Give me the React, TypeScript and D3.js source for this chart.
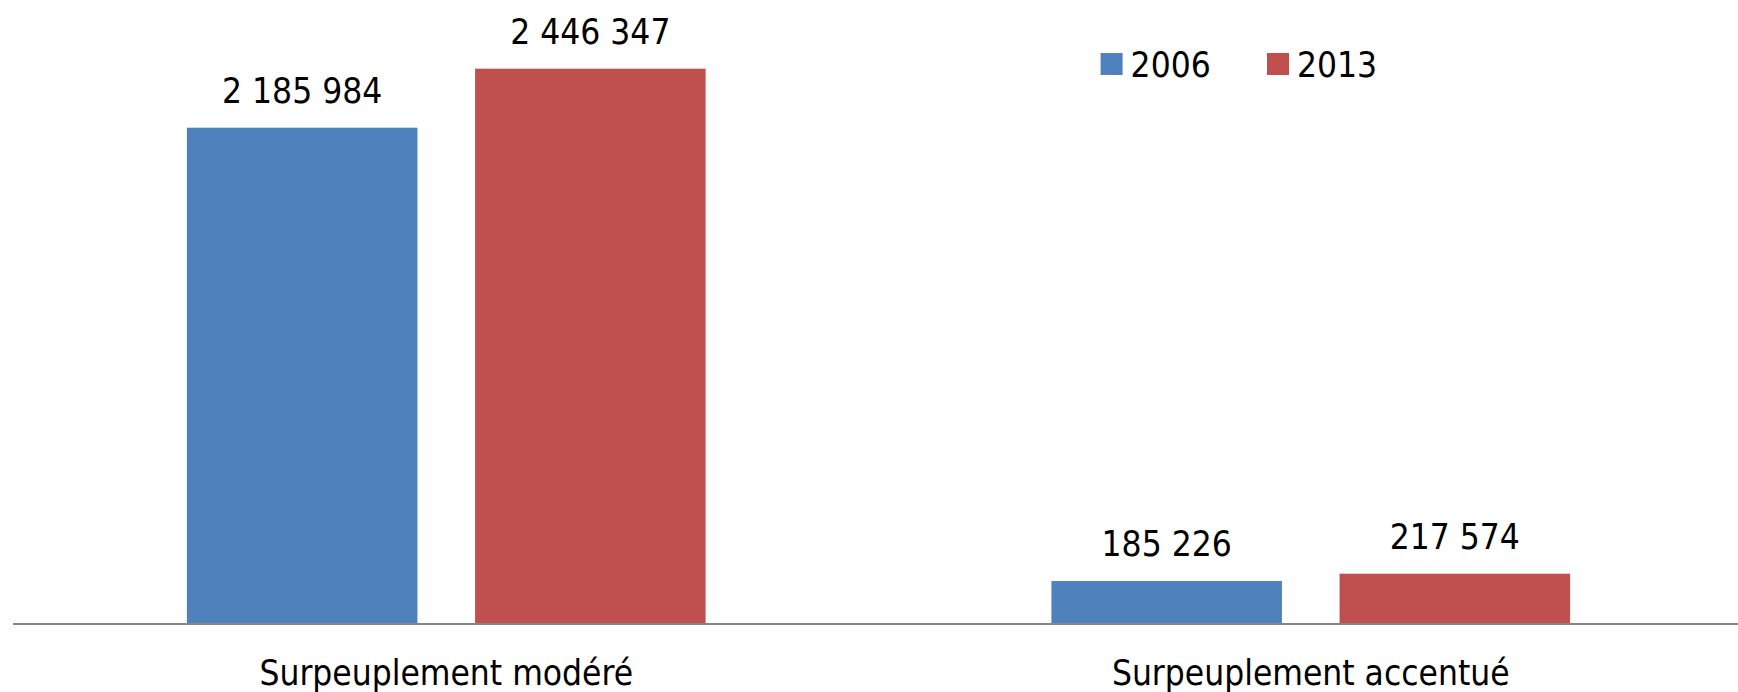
import React from "react";
import * as d3 from "d3";

const categories = ["Surpeuplement modéré", "Surpeuplement accentué"];
const seriesNames = ["2006", "2013"];
const values2006 = [2185984, 185226];
const values2013 = [2446347, 217574];
const colors = ["#4F81BD", "#C0504D"];

const W = 1738;
const H = 692;
const FONT = "'DejaVu Sans Condensed', 'DejaVu Sans', sans-serif";

export default function App() {
  const x0 = d3.scaleBand<string>().domain(categories).range([14, 1743]).paddingInner(0.4).paddingOuter(0.2);
  const x1 = d3.scaleBand<string>().domain(seriesNames).range([0, x0.bandwidth()]).paddingInner(0.2).paddingOuter(0);
  const y = d3.scaleLinear().domain([0, 2446347]).range([623, 68.7]);
  const locale = d3.formatLocale({ decimal: ",", thousands: " ", grouping: [3], currency: ["", " €"] });
  const fmt = locale.format(",d");
  const series = [values2006, values2013];

  const legendX = [1100.6, 1267];

  return (
    <svg width={W} height={H} style={{ position: "absolute", left: 0, top: 0, background: "#fff" }} fontFamily={FONT}>
      <rect x={0} y={0} width={W} height={H} fill="#fff" />
      {categories.map((c, ci) => (
        <g key={c} transform={`translate(${x0(c)},0)`}>
          {seriesNames.map((s, si) => {
            const v = series[si][ci];
            const bx = x1(s)!;
            return (
              <g key={s}>
                <rect x={bx} y={y(v)} width={x1.bandwidth()} height={y(0) - y(v)} fill={colors[si]} />
                <text x={bx + x1.bandwidth() / 2} y={y(v) - 25} textAnchor="middle" fontSize={35} fill="#000">
                  {fmt(v)}
                </text>
              </g>
            );
          })}
          <text x={x0.bandwidth() / 2} y={685} textAnchor="middle" fontSize={35} fill="#000">
            {c}
          </text>
        </g>
      ))}
      <line x1={13} x2={W} y1={y(0) + 1} y2={y(0) + 1} stroke="#868686" strokeWidth={2} />
      {seriesNames.map((s, si) => (
        <g key={s} transform={`translate(${legendX[si]},53)`}>
          <rect x={0} y={0} width={22} height={22} fill={colors[si]} />
          <text x={30} y={24} fontSize={35} fill="#000">
            {s}
          </text>
        </g>
      ))}
    </svg>
  );
}
